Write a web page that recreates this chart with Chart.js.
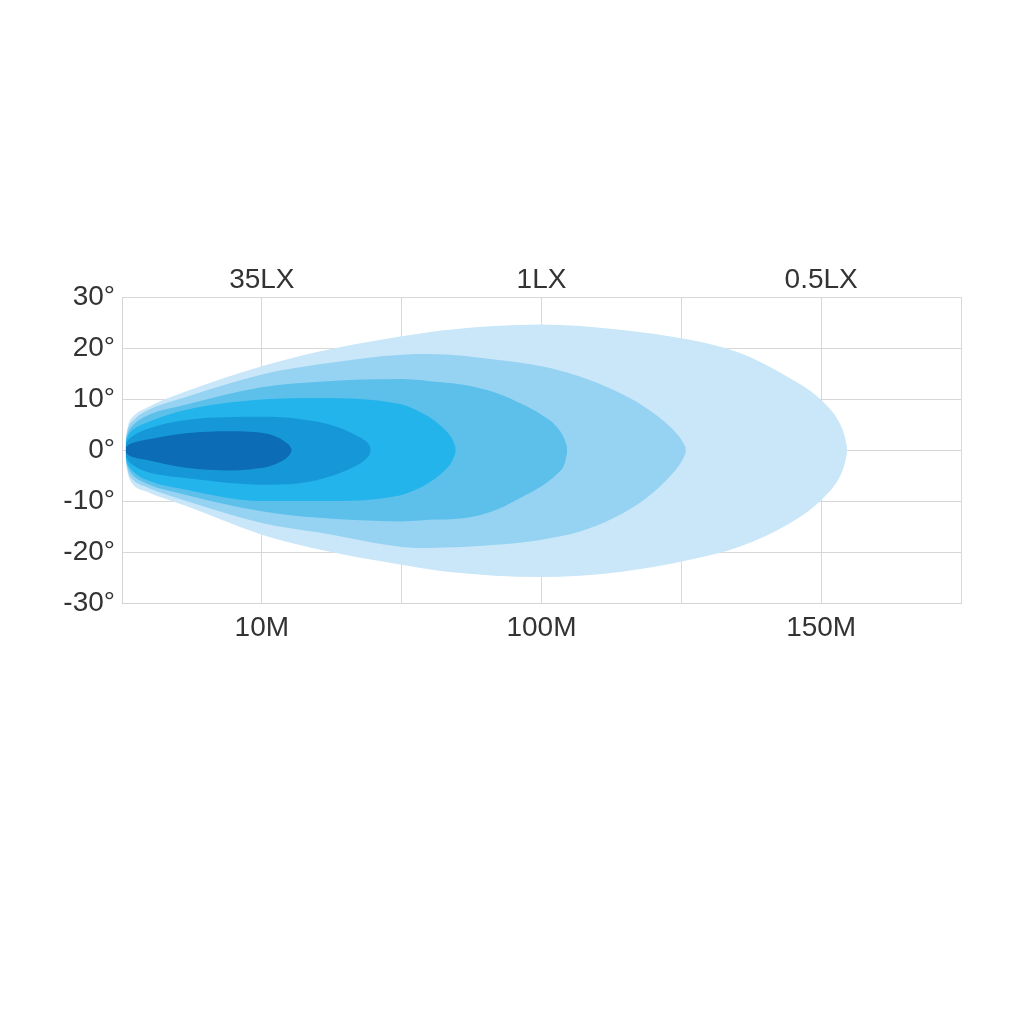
<!DOCTYPE html>
<html>
<head>
<meta charset="utf-8">
<script src="https://cdn.jsdelivr.net/npm/chart.js@4.4.1/dist/chart.umd.min.js"></script>
<style>
  html, body { margin: 0; padding: 0; background: #fff; }
  #wrap { width: 1024px; height: 1024px; }
</style>
</head>
<body>
<div id="wrap"><canvas id="beam"></canvas></div>
<script>
// x is in grid columns (0 = left edge, 6 = right edge), y in degrees
const distanceTicks = [1, 3, 5];
const distanceLabels = ["10M", "100M", "150M"];
const luxLabels = ["35LX", "1LX", "0.5LX"];

// innermost (darkest) beam
const beam1X = [0.027, 0.045, 0.08, 0.17, 0.46, 0.77, 0.912, 1.055, 1.127, 1.175, 1.2, 1.213];
const beam1Top = [0.6, 1.0, 1.4, 2.0, 3.3, 3.7, 3.6, 3.1, 2.3, 1.4, 0.8, 0.2];
const beam1Bottom = [-0.6, -1.0, -1.4, -1.9, -3.5, -4.0, -3.8, -3.2, -2.4, -1.6, -0.9, -0.2];

const beam2X = [0.027, 0.045, 0.08, 0.17, 0.46, 1.0, 1.27, 1.509, 1.652, 1.735, 1.765, 1.778];
const beam2Top = [1.2, 2.0, 2.8, 4.0, 5.9, 6.5, 6.1, 4.8, 3.2, 1.9, 1.1, 0.3];
const beam2Bottom = [-1.2, -2.1, -3.0, -4.2, -5.5, -6.8, -6.5, -5.0, -3.4, -2.0, -1.1, -0.3];

const beam3X = [0.027, 0.045, 0.08, 0.17, 0.46, 1.0, 1.41, 1.986, 2.1, 2.2, 2.308, 2.358, 2.386];
const beam3Top = [1.6, 2.9, 4.0, 5.3, 7.9, 9.9, 10.2, 9.0, 7.9, 6.4, 4.0, 2.3, 0.5];
const beam3Bottom = [-1.6, -3.0, -4.2, -5.8, -7.8, -10.0, -10.0, -8.9, -7.8, -6.3, -4.0, -2.3, -0.5];

const beam4X = [0.027, 0.045, 0.08, 0.17, 0.46, 1.0, 1.41, 2.0, 2.2, 2.439, 2.678, 2.868, 3.0, 3.107, 3.166, 3.183];
const beam4Top = [1.9, 3.6, 4.9, 6.6, 8.9, 12.3, 13.4, 13.9, 13.5, 12.8, 11.2, 8.9, 6.9, 4.6, 2.0, 0.5];
const beam4Bottom = [-1.9, -3.6, -5.0, -6.5, -8.8, -12.0, -13.3, -14.0, -13.7, -13.4, -11.7, -9.1, -7.1, -4.8, -2.6, -0.5];

const beam5X = [0.027, 0.045, 0.08, 0.17, 0.46, 1.0, 1.41, 2.0, 2.2, 2.678, 3.0, 3.274, 3.512, 3.751, 3.918, 4.001, 4.032];
const beam5Top = [2.2, 4.4, 5.8, 7.6, 10.4, 14.8, 16.8, 18.7, 18.8, 17.7, 16.4, 14.4, 11.8, 8.2, 4.6, 2.0, 0.5];
const beam5Bottom = [-2.2, -4.4, -5.9, -7.2, -10.0, -14.3, -16.2, -19.0, -19.2, -18.6, -17.6, -16.0, -13.4, -9.4, -5.2, -2.3, -0.5];

// outermost (lightest) beam
const beam6X = [0.027, 0.045, 0.08, 0.17, 0.46, 1.0, 1.41, 2.0, 2.34, 2.99, 3.56, 4.06, 4.42, 4.78, 5.0, 5.134, 5.165, 5.184];
const beam6Top = [2.5, 5.0, 6.6, 8.2, 11.5, 16.4, 19.3, 22.3, 23.6, 24.6, 23.6, 21.6, 19.0, 14.0, 9.8, 5.2, 3.0, 0.8];
const beam6Bottom = [-2.5, -5.0, -6.8, -8.1, -11.0, -16.6, -19.5, -22.5, -23.9, -24.9, -23.9, -21.5, -18.9, -14.3, -9.8, -5.2, -3.0, -0.8];

const beams = [
  [beam1X, beam1Top, beam1Bottom],
  [beam2X, beam2Top, beam2Bottom],
  [beam3X, beam3Top, beam3Bottom],
  [beam4X, beam4Top, beam4Bottom],
  [beam5X, beam5Top, beam5Bottom],
  [beam6X, beam6Top, beam6Bottom],
];
const beamColors = ["#0c6cb6", "#1698d8", "#22b4ea", "#5cc0eb", "#96d3f3", "#c9e7f8"];

const edge = (xs, ys) => xs.map((x, i) => ({ x: x, y: ys[i] }));

// each beam = upper edge filled down to its lower edge; darkest drawn last
const datasets = [];
beams.forEach(([xs, top, bottom], i) => {
  const base = {
    borderWidth: 0,
    pointRadius: 0,
    cubicInterpolationMode: "monotone",
    backgroundColor: beamColors[i],
    borderColor: beamColors[i],
  };
  datasets.push({ ...base, data: edge(xs, top), fill: "+1" });
  datasets.push({ ...base, data: edge(xs, bottom), fill: false });
});

const font = { family: "'Liberation Sans', Arial, sans-serif", size: 28 };
const gridColor = "rgba(212, 212, 212, 0.9)";

new Chart(document.getElementById("beam"), {
  type: "line",
  data: { datasets: datasets },
  options: {
    responsive: true,
    maintainAspectRatio: false,
    animation: false,
    layout: { padding: { left: 0, right: 63, top: 0, bottom: 0 } },
    plugins: { legend: { display: false }, tooltip: { enabled: false } },
    scales: {
      x: {
        type: "linear",
        position: "bottom",
        min: 0,
        max: 6,
        z: 1,
        grid: { color: gridColor, drawTicks: false },
        border: { color: gridColor },
        ticks: {
          stepSize: 1,
          padding: 8,
          color: "#333",
          font: font,
          maxRotation: 0,
          autoSkip: false,
          callback: (v) => {
            const i = distanceTicks.indexOf(v);
            return i >= 0 ? distanceLabels[i] : "";
          },
        },
        afterFit: (s) => { s.height = 421; },
      },
      x2: {
        type: "linear",
        position: "top",
        min: 0,
        max: 6,
        grid: { display: false, drawTicks: false },
        border: { display: false },
        ticks: {
          stepSize: 1,
          padding: 0,
          color: "#333",
          font: font,
          maxRotation: 0,
          autoSkip: false,
          callback: (v) => {
            const i = distanceTicks.indexOf(v);
            return i >= 0 ? luxLabels[i] : "";
          },
        },
        afterFit: (s) => { s.height = 297; },
      },
      y: {
        min: -30,
        max: 30,
        z: 1,
        grid: { color: gridColor, drawTicks: false },
        border: { color: gridColor },
        ticks: {
          stepSize: 10,
          padding: 7,
          color: "#333",
          font: font,
          callback: (v) => v + "°",
        },
        afterFit: (s) => { s.width = 122; },
      },
    },
  },
});
</script>
</body>
</html>
